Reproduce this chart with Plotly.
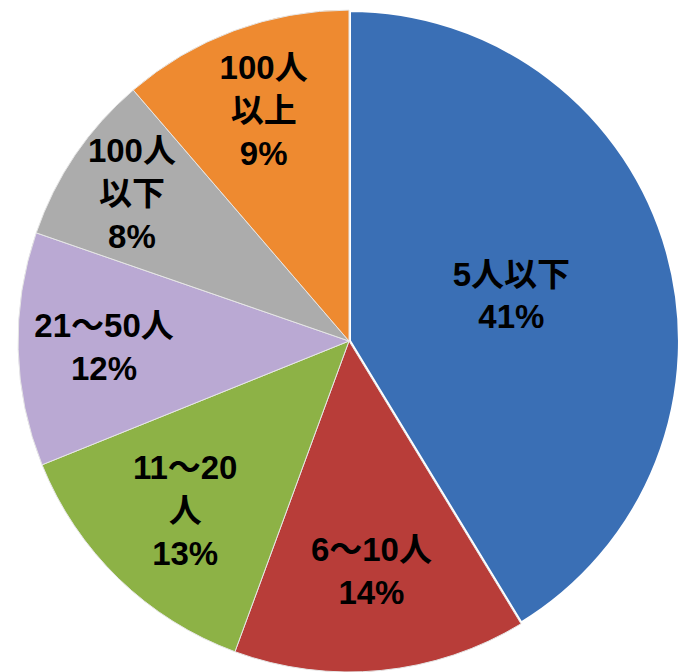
import plotly.graph_objects as go

categories = ["5人以下", "6～10人", "11～20<br>人", "21～50人", "100人<br>以下", "100人<br>以上"]
# slice sizes (percent of circle)
shares = [41.3, 14.3, 13.3, 11.4, 8.4, 11.3]
# percentages as printed on the chart
printed_pct = [41, 14, 13, 12, 8, 9]
colors = ["#3A6FB5", "#B83D39", "#8DB246", "#BAA9D3", "#ACACAC", "#EE8A30"]

texts = [f"{c}<br>{p}%" for c, p in zip(categories, printed_pct)]

fig = go.Figure(
    go.Pie(
        labels=categories,
        values=shares,
        text=texts,
        textinfo="text",
        textposition="inside",
        insidetextorientation="horizontal",
        sort=False,
        direction="clockwise",
        rotation=0,
        marker=dict(
            colors=colors,
            line=dict(color=["white", "#E6E6E6", "#E6E6E6", "#E6E6E6", "#E6E6E6", "#E6E6E6"],
                      width=[4, 1, 1, 1, 1, 1]),
        ),
        textfont=dict(family="Liberation Sans, Noto Sans CJK JP", size=33,
                      color="black", weight="bold"),
        domain=dict(x=[0.0265, 1.0], y=[0.0, 0.985]),
        showlegend=False,
        hoverinfo="skip",
    )
)

fig.update_layout(
    width=680,
    height=672,
    margin=dict(l=0, r=0, t=0, b=0),
    paper_bgcolor="white",
    plot_bgcolor="white",
    uniformtext=dict(minsize=33, mode="show"),
)

fig.write_html("out.html")
